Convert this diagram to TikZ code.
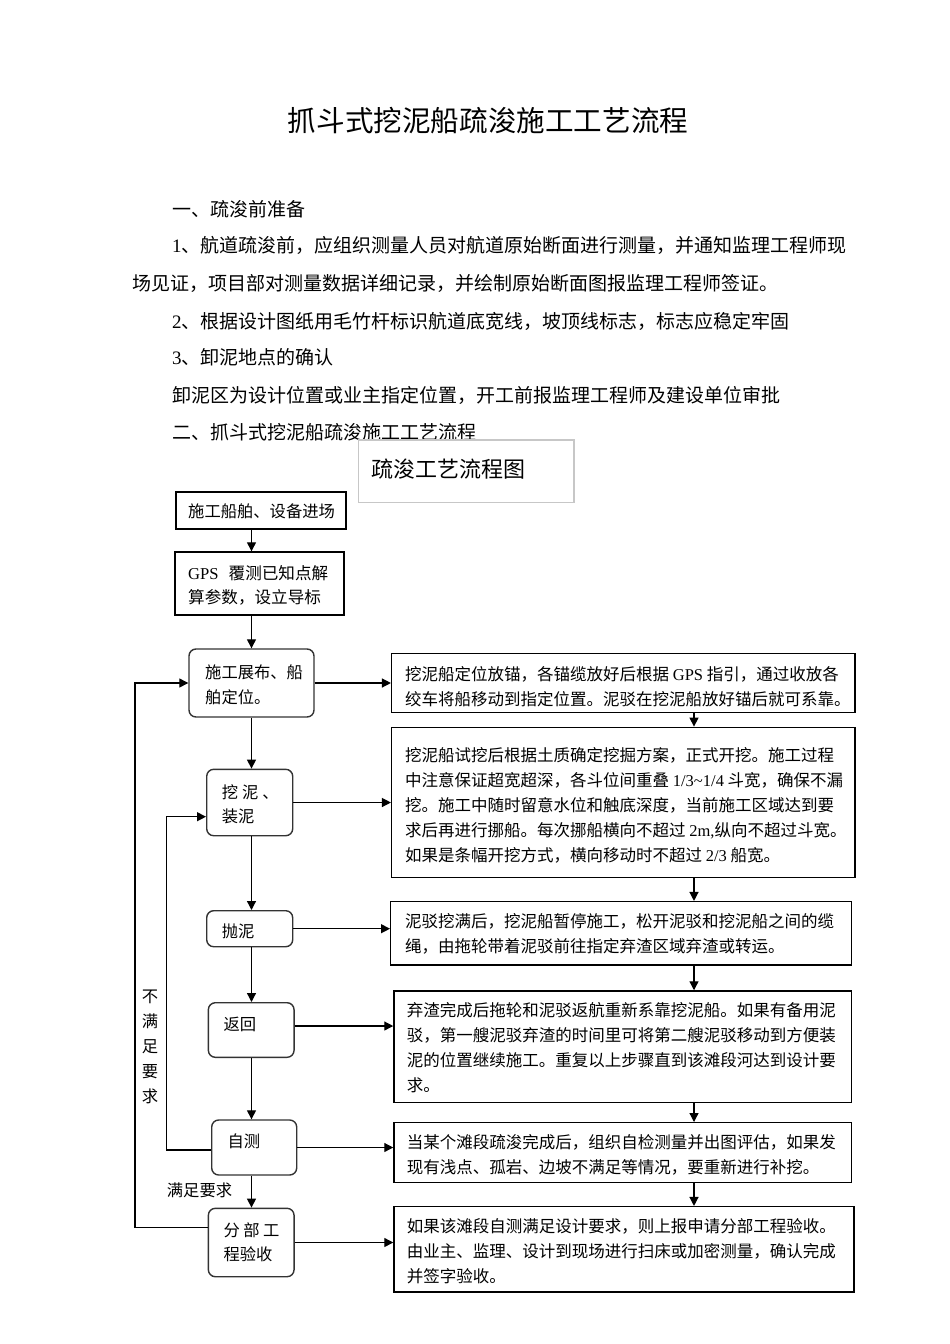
\documentclass[tikz,border=0pt]{standalone}
\usepackage{fontspec}
\setmainfont{Noto Sans CJK SC}
\newfontfamily\lat{Liberation Serif}
\usetikzlibrary{arrows.meta,calc}
\begin{document}
\begin{tikzpicture}[x=1pt,y=-1pt,
  arr/.style={-{Triangle[length=9pt,width=9pt]}, line width=1.25pt},
  sq/.style={draw=black, line width=1.4pt, inner sep=0},
  rnd/.style={draw=black!80, line width=1.4pt, rounded corners=7pt, inner sep=0},
  para/.style={anchor=west, inner sep=0, font=\fontsize{19}{23}\selectfont},
  btxt/.style={anchor=west, inner sep=0, align=left, font=\fontsize{16.5}{25}\selectfont},
  ltxt/.style={anchor=west, inner sep=0, align=left, font=\fontsize{16.3}{24.5}\selectfont},
]
\fill[white] (0,0) rectangle (950,1344);
\useasboundingbox (0,0) rectangle (950,1344);

% title and paragraphs
\node[inner sep=0, font=\fontsize{28.6}{34}\selectfont] (title) at (488,121) {抓斗式挖泥船疏浚施工工艺流程};
\node[para] (p1) at (172,209) {一、疏浚前准备};
\node[para] (p2) at (172,245) {{\lat 1}、航道疏浚前，应组织测量人员对航道原始断面进行测量，并通知监理工程师现};
\node[para] (p3) at (132,283) {场见证，项目部对测量数据详细记录，并绘制原始断面图报监理工程师签证。};
\node[para] (p4) at (172,321) {{\lat 2}、根据设计图纸用毛竹杆标识航道底宽线，坡顶线标志，标志应稳定牢固};
\node[para] (p5) at (172,357) {{\lat 3}、卸泥地点的确认};
\node[para] (p6) at (172,395) {卸泥区为设计位置或业主指定位置，开工前报监理工程师及建设单位审批};
\node[para] (p7) at (172,432) {二、抓斗式挖泥船疏浚施工工艺流程};

% chart caption box
\node[draw=black!22, line width=1.3pt, inner sep=0, minimum width=215.7pt, minimum height=62.3pt] (cap) at (466.2,471.2) {};
\node[anchor=west, inner sep=0, font=\fontsize{22}{26}\selectfont] (capt) at (371.7,469) {疏浚工艺流程图};

% left column boxes
\node[sq, minimum width=170pt, minimum height=37pt] (b1) at (261,510.5) {};
\node[sq, minimum width=169pt, minimum height=63pt] (b2) at (259.5,583.5) {};
\node[rnd, minimum width=125pt, minimum height=68pt] (b3) at (251.5,683) {};
\node[rnd, minimum width=86pt, minimum height=66.4pt] (b4) at (249.7,802.5) {};
\node[rnd, minimum width=86pt, minimum height=36pt] (b5) at (249.7,928.7) {};
\node[rnd, minimum width=85.7pt, minimum height=54.6pt] (b6) at (251.2,1030) {};
\node[rnd, minimum width=85pt, minimum height=55pt] (b7) at (254.2,1147.5) {};
\node[rnd, minimum width=85.7pt, minimum height=68.4pt] (b8) at (251.2,1242.5) {};

\node[ltxt] (t1) at (188,511) {施工船舶、设备进场};
\node[ltxt, font=\fontsize{16.6}{24}\selectfont] (t2) at (188,585) {{\lat GPS}\hspace{10pt}覆测已知点解\\算参数，设立导标};
\node[ltxt] (t3) at (205,684.7) {施工展布、船\\舶定位。};
\node[ltxt] (t4) at (221.7,804.2) {挖\hspace{4pt}泥\hspace{4pt}、\\装泥};
\node[ltxt] (t5) at (221.7,931.7) {抛泥};
\node[ltxt] (t6) at (223.3,1024) {返回};
\node[ltxt] (t7) at (227.3,1141.7) {自测};
\node[ltxt] (t8) at (223.3,1242.5) {分\hspace{3.5pt}部\hspace{3.5pt}工\\程验收};

% right column boxes
\node[sq, minimum width=463.3pt, minimum height=59.4pt] (A) at (623.3,683) {};
\node[sq, minimum width=463.3pt, minimum height=150.4pt] (B) at (623.3,802.5) {};
\node[sq, minimum width=461pt, minimum height=63.3pt] (C) at (621.2,933.3) {};
\node[sq, minimum width=457.7pt, minimum height=111.7pt] (D) at (622.8,1046.8) {};
\node[sq, minimum width=457.7pt, minimum height=60pt] (E) at (622.8,1152.7) {};
\node[sq, minimum width=460pt, minimum height=85.3pt] (F) at (624,1249.3) {};

\node[btxt] (tA) at (405,686.7) {挖泥船定位放锚，各锚缆放好后根据 {\lat GPS} 指引，通过收放各\\绞车将船移动到指定位置。泥驳在挖泥船放好锚后就可系靠。};
\node[btxt] (tB) at (405,805) {挖泥船试挖后根据土质确定挖掘方案，正式开挖。施工过程\\中注意保证超宽超深，各斗位间重叠 {\lat 1/3\textasciitilde 1/4} 斗宽，确保不漏\\挖。施工中随时留意水位和触底深度，当前施工区域达到要\\求后再进行挪船。每次挪船横向不超过 {\lat 2m,}纵向不超过斗宽。\\如果是条幅开挖方式，横向移动时不超过 {\lat 2/3} 船宽。};
\node[btxt] (tC) at (405,934.2) {泥驳挖满后，挖泥船暂停施工，松开泥驳和挖泥船之间的缆\\绳，由拖轮带着泥驳前往指定弃渣区域弃渣或转运。};
\node[btxt] (tD) at (406.7,1047.5) {弃渣完成后拖轮和泥驳返航重新系靠挖泥船。如果有备用泥\\驳，第一艘泥驳弃渣的时间里可将第二艘泥驳移动到方便装\\泥的位置继续施工。重复以上步骤直到该滩段河达到设计要\\求。};
\node[btxt] (tE) at (406.7,1154.5) {当某个滩段疏浚完成后，组织自检测量并出图评估，如果发\\现有浅点、孤岩、边坡不满足等情况，要重新进行补挖。};
\node[btxt] (tF) at (406.7,1251.7) {如果该滩段自测满足设计要求，则上报申请分部工程验收。\\由业主、监理、设计到现场进行扫床或加密测量，确认完成\\并签字验收。};

% labels
\node[inner sep=0, align=center, font=\fontsize{16.3}{25}\selectfont] (no) at (150,1047) {不\\满\\足\\要\\求};
\node[anchor=west, inner sep=0, font=\fontsize{16.3}{20}\selectfont] (yes) at (166.7,1190.7) {满足要求};

% connectors
\coordinate (cl) at (251.5,0);
\coordinate (cr) at (694,0);
\draw[arr] (b1.south -| cl) -- (b2.north -| cl);
\draw[arr] (b2.south -| cl) -- (b3.north -| cl);
\draw[arr] (b3.south -| cl) -- (b4.north -| cl);
\draw[arr] (b4.south -| cl) -- (b5.north -| cl);
\draw[arr] (b5.south -| cl) -- (b6.north -| cl);
\draw[arr] (b6.south -| cl) -- (b7.north -| cl);
\draw[arr] (b7.south -| cl) -- (b8.north -| cl);

\draw[arr] (A.south -| cr) -- (B.north -| cr);
\draw[arr] (B.south -| cr) -- (C.north -| cr);
\draw[arr] (C.south -| cr) -- (D.north -| cr);
\draw[arr] (D.south -| cr) -- (E.north -| cr);
\draw[arr] (E.south -| cr) -- (F.north -| cr);

\draw[arr] (b3.east) -- (b3.east -| A.west);
\draw[arr] (b4.east) -- (b4.east -| B.west);
\draw[arr] (b5.east) -- (b5.east -| C.west);
\coordinate (b6r) at ($(b6.east)+(0,-4)$);
\draw[arr] (b6r) -- (b6r -| D.west);
\draw[arr] (b7.east) -- (b7.east -| E.west);
\draw[arr] (b8.east) -- (b8.east -| F.west);

% loops
\coordinate (xo) at (135,0);
\coordinate (xi) at (166.7,0);
\coordinate (b8l) at ($(b8.west)+(0,-14.8)$);
\draw[arr] (b8l) -- (b8l -| xo) -- (b3.west -| xo) -- (b3.west);
\coordinate (b7l) at ($(b7.west)+(0,2.5)$);
\coordinate (b4l) at ($(b4.west)+(0,14.2)$);
\draw[arr] (b7l) -- (b7l -| xi) -- (b4l -| xi) -- (b4l);
\end{tikzpicture}
\end{document}
